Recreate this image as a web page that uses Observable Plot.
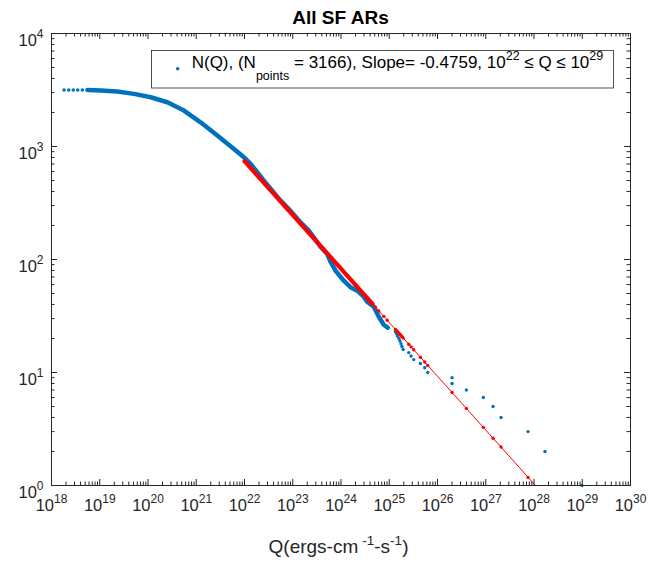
<!DOCTYPE html>
<html><head><meta charset="utf-8">
<script src="https://cdn.jsdelivr.net/npm/d3@7"></script>
<script src="https://cdn.jsdelivr.net/npm/@observablehq/plot@0.6"></script>
<style>body{margin:0;background:#fff;} #chart svg{display:block;} text{white-space:pre;}</style>
</head><body><div id="chart"></div>
<script>
// ---- data ----
const startQ = [1.82e18, 2.28e18, 2.83e18, 3.50e18, 4.35e18];
const startN = [3166, 3165, 3164, 3163, 3162];
const denseQ = [5.56e18, 1.05e19, 2.32e19, 5.13e19, 1.14e20, 2.52e20, 5.56e20, 1.23e21, 2.73e21, 6.04e21, 9.73e21, 1.34e22, 2.52e22, 5.59e22, 8.30e22, 1.45e23, 2.15e23, 3.76e23, 5.18e23, 6.07e23, 7.70e23, 1.14e24, 1.57e24, 2.16e24, 2.96e24, 3.48e24, 4.77e24, 6.07e24, 7.70e24, 9.30e24];
const denseN = [3160, 3126, 3063, 2923, 2728, 2463, 2079, 1637, 1249, 952, 802, 701, 499, 332, 280, 213, 180, 130, 112, 95.5, 79.6, 64.9, 56.9, 53.0, 46.9, 42.3, 38.2, 31.1, 26.5, 24.9];
const tailQ = [1.343e25, 1.409e25, 1.479e25, 1.589e25, 1.667e25, 1.746e25, 1.832e25, 1.941e25, 2.535e25, 2.838e25, 3.214e25, 4.426e25, 5.433e25, 6.266e25, 2.004e26, 2.004e26, 3.963e26, 8.913e26, 1.416e27, 2.075e27, 7.516e27, 1.690e28, 9.863e28];
const tailN = [23, 22, 21, 20, 19, 18, 17, 16, 15, 14, 13, 12, 11, 10, 9, 8, 7, 6, 5, 4, 3, 2, 1];
const fitLineQ = [1e22, 1e29];
const fitLineN = [741, 0.346];
const fitBandQ = [1e22, 4.5e24];
const fitBandN = [741, 40.5];
const fitDotQ = [5.18e24, 6.07e24, 7.70e24, 9.06e24, 1.343e25, 1.409e25, 1.479e25, 1.589e25, 1.667e25, 1.746e25, 1.832e25, 1.941e25, 2.535e25, 2.838e25, 3.214e25, 4.426e25, 5.433e25, 6.266e25, 2.004e26, 3.963e26, 8.913e26, 1.416e27, 2.075e27, 7.516e27];
const fitDotN = [37.9, 35.1, 31.4, 29.0, 24.07, 23.52, 22.98, 22.22, 21.71, 21.24, 20.76, 20.20, 17.79, 16.86, 15.89, 13.64, 12.38, 11.56, 6.65, 4.81, 3.27, 2.62, 2.19, 1.18];
const xMajor = [1e18, 1e19, 1e20, 1e21, 1e22, 1e23, 1e24, 1e25, 1e26, 1e27, 1e28, 1e29, 1e30];
const yMajor = [1, 10, 100, 1000, 10000];
const titleText = "All SF ARs";
const legendParts = ["N(Q), (N", "points", " = 3166), Slope= -0.4759, 10", "22", " \u2264 Q \u2264 10", "29"];
const xLabelParts = ["Q(ergs-cm", "-1", "-s", "-1", ")"];

// ---- layout ----
const FONT = "'Liberation Sans', Arial, Helvetica, sans-serif";
const BLUE = "#0072BD", RED = "#FF0000", AX = "#262626";
const W = 653, H = 565, mL = 51, mR = 23, mT = 33, mB = 80;
const pw = W - mL - mR, ph = H - mT - mB;
const isPow = v => Math.abs(Math.log10(v) - Math.round(Math.log10(v))) < 1e-6;
const xMinor = d3.scaleLog().domain([1e18, 1e30]).ticks(60).filter(v => !isPow(v));
const yMinor = d3.scaleLog().domain([1, 1e4]).ticks(30).filter(v => !isPow(v));
const rows = (qs, ns) => qs.map((q, i) => ({q, n: ns[i]}));
const expFmt = d => String(Math.round(Math.log10(d)));

const chart = Plot.plot({
  width: W, height: H, marginLeft: mL, marginRight: mR, marginTop: mT, marginBottom: mB,
  x: {type: "log", domain: [1e18, 1e30]},
  y: {type: "log", domain: [1, 1e4]},
  style: {fontFamily: FONT, fontSize: "16.5px", color: AX, background: "#fff", overflow: "visible"},
  marks: [
    Plot.line(rows(denseQ, denseN), {x: "q", y: "n", stroke: BLUE, strokeWidth: 4.5, strokeLinecap: "round", strokeLinejoin: "round"}),
    Plot.dot(rows(startQ, startN), {x: "q", y: "n", r: 1.8, fill: BLUE}),
    Plot.dot(rows(tailQ, tailN), {x: "q", y: "n", r: 1.7, fill: BLUE}),
    Plot.line(rows(fitLineQ, fitLineN), {x: "q", y: "n", stroke: RED, strokeWidth: 1, clip: true}),
    Plot.line(rows(fitBandQ, fitBandN), {x: "q", y: "n", stroke: RED, strokeWidth: 4.2, strokeLinecap: "round"}),
    Plot.dot(rows(fitDotQ, fitDotN), {x: "q", y: "n", r: 1.7, fill: RED}),
    Plot.frame({stroke: AX, strokeWidth: 1}),
    Plot.tickX(xMajor, {insetTop: ph - 6, stroke: AX}),
    Plot.tickX(xMajor, {insetBottom: ph - 6, stroke: AX}),
    Plot.tickX(xMinor, {insetTop: ph - 3.5, stroke: AX}),
    Plot.tickX(xMinor, {insetBottom: ph - 3.5, stroke: AX}),
    Plot.tickY(yMajor, {insetRight: pw - 6, stroke: AX}),
    Plot.tickY(yMajor, {insetLeft: pw - 6, stroke: AX}),
    Plot.tickY(yMinor, {insetRight: pw - 3.5, stroke: AX}),
    Plot.tickY(yMinor, {insetLeft: pw - 3.5, stroke: AX}),
    Plot.axisX({ticks: xMajor, tickSize: 0, tickPadding: 14, tickFormat: expFmt, label: null, fontSize: 16.5}),
    Plot.axisY({ticks: yMajor, tickSize: 0, tickPadding: 8, dy: 7, tickFormat: expFmt, label: null, fontSize: 16.5})
  ]
});
document.getElementById("chart").appendChild(chart);

const svg = d3.select(chart);
svg.selectAll('g[aria-label="x-axis tick label"] text, g[aria-label="y-axis tick label"] text').each(function () {
  const t = d3.select(this);
  const e = t.text();
  t.text("10");
  t.append("tspan").attr("dy", -8).attr("font-size", 12).text(e);
});

// title
svg.append("text").attr("x", mL + pw / 2).attr("y", 23.5).attr("text-anchor", "middle")
  .attr("font-family", FONT).attr("font-size", 19).attr("font-weight", "bold").attr("fill", "#000").text(titleText);

// x label
const xl = svg.append("text").attr("x", mL + pw / 2 - 2).attr("y", 553).attr("text-anchor", "middle")
  .attr("font-family", FONT).attr("font-size", 19).attr("fill", AX);
xl.append("tspan").text(xLabelParts[0]);
xl.append("tspan").attr("dx", 4).attr("dy", -8).attr("font-size", 13.5).text(xLabelParts[1]);
xl.append("tspan").attr("dy", 8).text(xLabelParts[2]);
xl.append("tspan").attr("dy", -8).attr("font-size", 13.5).text(xLabelParts[3]);
xl.append("tspan").attr("dy", 8).text(xLabelParts[4]);

// legend
const lg = svg.append("g").attr("font-family", FONT).attr("text-anchor", "start");
lg.append("rect").attr("x", 151.5).attr("y", 50.5).attr("width", 462).attr("height", 37.5)
  .attr("fill", "#fff").attr("stroke", AX).attr("stroke-width", 0.8);
lg.append("circle").attr("cx", 177.7).attr("cy", 68.7).attr("r", 1.8).attr("fill", BLUE);
const lt = lg.append("text").attr("x", 191.7).attr("y", 67.5).attr("font-size", 17).attr("fill", "#000").attr("text-anchor", "start");
lt.append("tspan").text(legendParts[0]);
lt.append("tspan").attr("dy", 12).attr("font-size", 12.5).text(legendParts[1]);
lt.append("tspan").attr("dy", -12).text(legendParts[2]);
lt.append("tspan").attr("dy", -8).attr("font-size", 12.5).text(legendParts[3]);
lt.append("tspan").attr("dy", 8).text(legendParts[4]);
lt.append("tspan").attr("dy", -8).attr("font-size", 12.5).text(legendParts[5]);
</script></body></html>
